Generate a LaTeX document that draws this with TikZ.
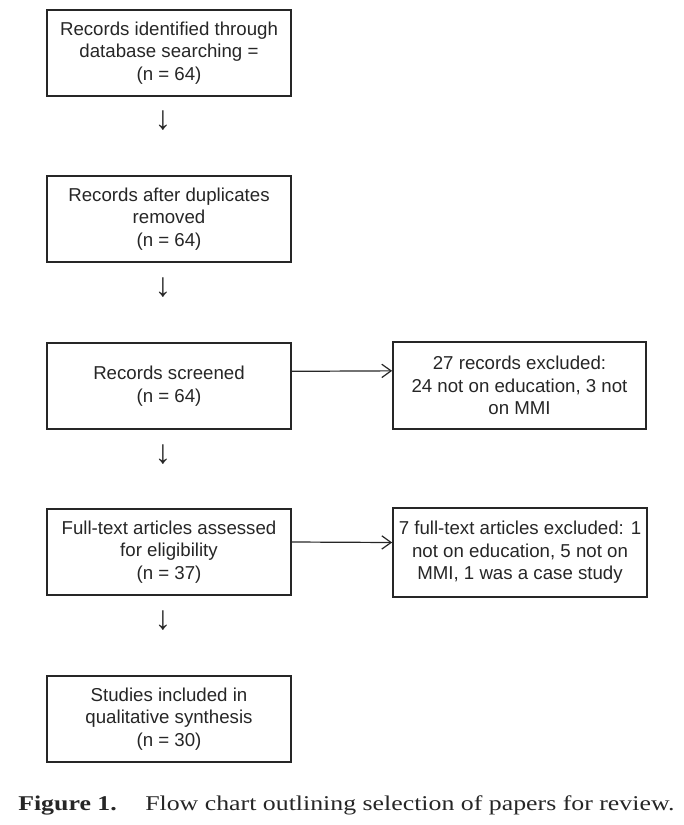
\documentclass[tikz,border=0pt]{standalone}
\usepackage{fontspec}
\setmainfont{Liberation Sans}
\newfontfamily\capfont[FakeStretch=1.23]{Liberation Serif}
\usetikzlibrary{arrows.meta}
\begin{document}
\begin{tikzpicture}[x=0.75pt,y=-0.75pt,
  box/.style={draw=black!85,line width=1.3pt,align=center,inner sep=0pt,
    font=\fontsize{14pt}{16.9pt}\selectfont,text=black!85},
  lbox/.style={box,minimum width=183pt,minimum height=64.5pt},
  harrow/.style={draw=black!85,line width=0.9pt,-{Straight Barb[length=7pt,width=10pt,line width=0.9pt]}},
  darrow/.style={inner sep=0pt,font=\fontsize{25pt}{26pt}\selectfont,text=black!85},
  captxt/.style={anchor=base west,inner sep=0pt,font=\capfont\fontsize{15.75pt}{18pt}\selectfont,text=black!85}]
\useasboundingbox (0,0) rectangle (683,825);
\node[lbox] (b1) at (169,53) {Records identified through\\database searching =\\(n = 64)};
\node[lbox] (b2) at (169,219) {Records after duplicates\\removed\\(n = 64)};
\node[lbox] (b3) at (169,386) {Records screened\\(n = 64)};
\node[lbox] (b4) at (169,552) {Full-text articles assessed\\for eligibility\\(n = 37)};
\node[lbox] (b5) at (169,719) {Studies included in\\qualitative synthesis\\(n = 30)};
\node[box,minimum width=189.75pt,minimum height=65.25pt] (r1) at (519.5,385.5) {27 records excluded:\\24 not on education, 3 not\\on MMI};
\node[box,minimum width=190.5pt,minimum height=66.75pt] (r2) at (520,552.5) {7 full-text articles excluded: 1\\not on education, 5 not on\\MMI, 1 was a case study};
\node[darrow] (d1) at (163,121) {↓};
\node[darrow] (d2) at (163,288) {↓};
\node[darrow] (d3) at (163,455) {↓};
\node[darrow] (d4) at (163,621) {↓};
\draw[harrow] ([yshift=11pt]b3.east) -- ([yshift=11pt]r1.west);
\draw[harrow] ([yshift=7.5pt]b4.east) -- ([yshift=7.5pt]r2.west);
\node[captxt,font=\capfont\bfseries\fontsize{15.75pt}{18pt}\selectfont] (c1) at (18,810) {Figure 1.};
\node[captxt] (c2) at (145,810) {Flow chart outlining selection of papers for review.};
\end{tikzpicture}
\end{document}
